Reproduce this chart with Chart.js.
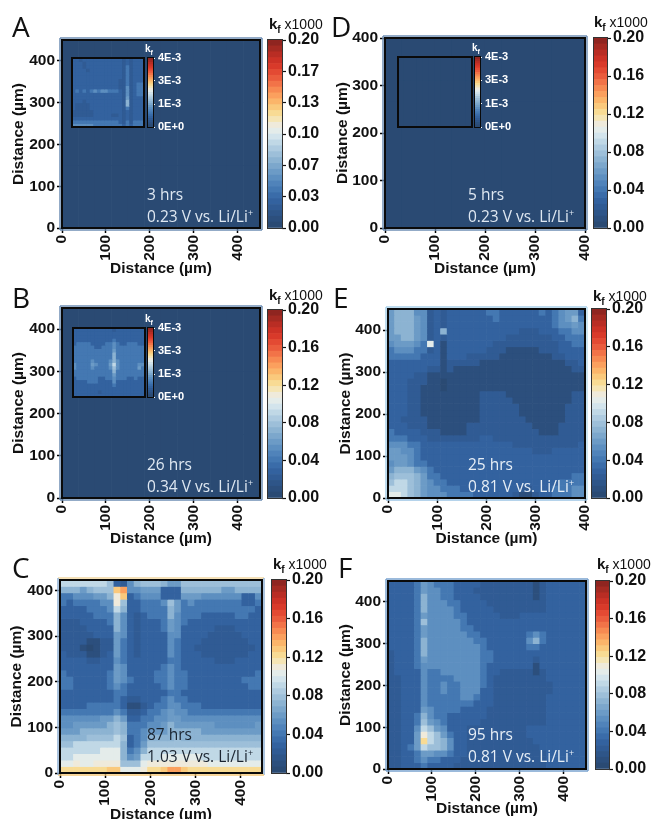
<!DOCTYPE html>
<html>
<head>
<meta charset="utf-8">
<script src="https://cdn.jsdelivr.net/npm/chart.js@4"></script>
<style>
  html, body { margin: 0; padding: 0; background: #fff; }
  #page { position: relative; width: 651px; height: 819px; overflow: hidden; }
  #page canvas { position: absolute; }
  .letter { position: absolute; font: 28px "Open Sans"; line-height: 30px; color: #111; }
  .note { position: absolute; font: 15.5px "Open Sans"; line-height: 20px; white-space: nowrap; }
  .note sup { font-size: 9px; line-height: 0; }
  .head { position: absolute; font: 14px "Liberation Sans"; line-height: 18px; color: #111; white-space: nowrap; }
  .head b { font-size: 15px; }
  .head sub { font-size: 10px; line-height: 0; }
  .insethead { position: absolute; font: bold 10px "Liberation Sans"; line-height: 12px; color: #fff; }
  .insethead sub { font-size: 7px; line-height: 0; }
</style>
</head>
<body>
<div id="page"></div>
<script>
// colour bar bands, bottom to top
const bandColors = ['#2a4a73','#2c4f7d','#2e5588','#305b94','#33629f','#3a6ca9','#4478b2','#5083ba',
  '#5d8fc0','#6c9bc6','#7ca7cc','#8cb3d2','#9dbfd9','#aecbe0','#c0d8e6','#d3e4ec',
  '#e4ecea','#efeadb','#f5e5b5','#f8db94','#fac97c','#fbb56a','#fba05e','#f78a52',
  '#f27348','#ea5c3d','#e34a33','#d93a2a','#cc3226','#b92d24','#a42a22','#8f2520']

const distanceTicks = [0,100,200,300,400]
const barTicksThirds = [0,0.0333,0.0667,0.1,0.1333,0.1667,0.2]
const barTicksFifths = [0,0.04,0.08,0.12,0.16,0.2]
const insetTicks = [0,0.00133,0.00267,0.004]

// kf x1000, in steps of 0.01, top row first
const flatMap = [
[0,0,0,0,0,0,0,0,0,0,0,0],
[0,0,0,0,0,0,0,0,0,0,0,0],
[0,0,0,0,0,0,0,0,0,0,0,0]]

const mapC = [
[9,9,9,9,9,9,9,8,3,2,5,7,8,8,8,7,6,6,8,8,8,8,8,8,8,8,8,8,8,8],
[7,7,7,6,7,8,8,8,13,14,5,5,6,6,6,3,3,3,7,7,7,7,7,7,6,6,7,7,7,7],
[4,4,5,5,5,6,6,7,11,13,3,4,5,5,5,3,3,3,6,6,6,5,5,5,5,5,5,3,3,5],
[4,3,4,4,4,4,5,5,11,8,3,3,4,4,4,5,8,6,4,5,4,4,4,4,4,4,4,3,3,4],
[3,3,3,3,4,4,4,5,9,7,3,3,4,4,4,4,7,6,4,4,4,4,4,4,4,4,4,4,4,3],
[3,3,3,3,3,4,4,4,7,5,3,2,3,4,4,4,7,5,4,4,4,3,3,3,3,3,4,4,3,3],
[2,2,2,3,3,3,3,4,7,5,3,2,3,3,3,4,6,5,4,3,3,3,3,3,3,3,3,3,3,3],
[2,2,2,2,3,3,3,3,7,5,3,2,3,3,3,4,6,5,3,3,3,3,3,2,2,2,3,3,3,3],
[2,2,2,2,2,3,3,3,6,5,3,2,3,3,3,3,5,5,3,3,3,3,2,2,2,2,2,3,3,3],
[2,2,2,2,1,1,2,2,6,4,3,2,3,3,3,3,5,4,3,3,3,2,2,2,2,2,2,2,3,3],
[2,2,2,1,0,1,2,2,6,4,3,2,3,3,3,3,5,4,3,3,2,2,2,2,2,2,2,2,2,3],
[3,2,2,2,1,1,2,3,6,4,3,2,3,3,3,3,5,4,3,3,3,2,2,2,2,2,2,2,3,3],
[3,3,3,3,2,2,3,3,5,4,3,3,3,3,3,3,4,4,3,3,3,3,3,2,2,2,3,3,3,3],
[3,3,3,3,3,3,3,3,6,5,3,3,3,3,3,4,5,4,3,3,3,3,3,3,3,3,3,3,3,3],
[4,3,3,3,3,3,3,4,6,5,3,3,3,3,4,4,5,4,4,3,3,3,3,3,3,3,3,3,3,4],
[4,4,3,3,3,3,3,4,6,5,4,3,3,3,4,4,5,4,4,3,3,3,3,3,3,3,3,4,4,4],
[4,4,3,3,3,3,3,4,5,4,3,3,3,3,3,4,5,4,4,3,3,3,3,3,3,3,3,3,4,4],
[3,3,3,3,3,3,3,3,4,4,3,3,3,3,3,3,4,4,3,3,3,3,3,3,3,3,3,3,3,3],
[3,3,3,3,3,3,3,3,4,3,2,2,3,3,3,4,5,4,4,3,3,3,3,3,3,3,3,3,3,3],
[3,3,3,3,4,4,4,4,4,3,1,1,2,3,4,4,5,5,4,4,4,3,3,3,3,3,3,3,3,3],
[4,4,4,4,4,4,4,4,5,4,2,2,3,4,4,5,6,5,5,4,4,4,4,4,4,4,4,4,4,4],
[5,5,5,5,5,5,6,6,7,6,3,3,4,4,5,5,6,6,5,5,5,5,5,5,5,5,5,5,5,5],
[5,5,6,6,6,6,6,7,8,7,4,4,4,5,5,6,7,6,6,6,6,6,6,5,5,5,5,5,5,6],
[6,6,6,7,7,7,7,7,8,7,4,4,5,6,6,6,7,7,7,7,7,6,6,6,6,6,6,6,6,6],
[7,7,7,7,8,8,8,8,9,8,3,4,5,7,7,7,7,8,7,7,7,7,7,7,7,7,7,7,7,7],
[8,8,9,9,9,9,9,9,9,7,3,4,6,8,8,8,8,8,8,8,8,8,8,8,8,8,8,8,8,8],
[9,9,9,9,9,9,10,10,10,7,4,5,7,9,9,9,9,9,9,9,9,9,9,9,9,9,9,9,9,9],
[9,9,10,10,10,10,10,10,10,7,5,6,9,9,9,10,10,10,10,10,10,9,9,9,9,9,9,9,9,9],
[10,10,11,10,10,11,11,11,11,8,8,8,10,11,11,11,11,11,11,11,11,11,10,10,10,10,10,10,10,10],
[12,12,12,12,12,12,12,13,13,10,10,10,11,12,12,13,14,14,13,12,12,12,12,12,12,12,12,12,12,12]]

const mapE = [
[6,7,7,7,5,5,2,3,2,3,3,3,3,3,3,4,4,3,3,3,3,3,3,4,3,4,5,6,6,3],
[6,7,7,7,6,5,2,3,2,3,3,3,3,3,3,3,4,3,3,3,3,3,3,3,3,4,5,6,7,4],
[6,7,7,7,6,5,2,3,2,3,3,3,3,3,3,3,3,3,3,3,3,3,3,3,3,4,5,5,6,5],
[6,7,7,7,6,5,2,3,7,3,3,3,3,3,3,3,3,3,3,3,2,2,2,3,3,3,4,4,5,5],
[6,6,7,7,6,5,2,3,2,3,3,3,3,3,3,3,3,3,2,2,2,2,2,2,2,3,3,4,4,4],
[5,6,6,6,5,4,10,3,1,3,3,3,3,3,3,3,2,2,2,2,2,2,2,2,2,2,3,3,4,4],
[4,5,5,5,4,4,2,3,1,3,3,3,3,3,3,2,2,2,1,1,1,1,1,2,2,2,3,3,3,3],
[4,4,4,4,4,3,3,3,1,3,3,3,2,2,2,2,2,1,1,1,1,1,1,1,1,2,2,3,3,3],
[3,3,3,3,3,3,3,3,1,2,2,2,2,2,1,1,1,1,1,1,1,1,1,1,1,1,1,2,2,3],
[3,3,3,3,3,3,2,2,1,2,1,1,1,1,1,1,1,1,1,1,1,1,1,1,1,1,1,1,2,2],
[3,3,3,3,2,2,1,1,1,1,1,1,1,1,1,1,1,1,1,1,1,1,1,1,1,1,1,1,1,1],
[3,3,3,2,2,2,1,1,0,1,1,1,1,1,1,1,1,1,1,1,1,1,1,1,1,1,1,1,1,1],
[3,3,3,2,2,1,1,1,0,1,1,1,1,1,1,1,1,1,1,1,1,1,1,1,1,1,1,1,1,1],
[3,3,3,2,2,1,1,1,1,1,1,1,1,1,2,2,2,2,1,1,1,1,1,1,1,1,1,1,2,2],
[3,3,3,2,2,1,1,1,1,1,1,1,1,1,2,2,2,2,2,1,1,1,1,1,1,1,1,1,2,2],
[3,3,3,2,2,1,1,1,1,1,1,1,1,1,2,2,2,2,2,2,1,1,1,1,1,1,1,2,2,2],
[3,3,3,2,2,1,1,1,1,1,1,1,1,1,2,2,2,2,2,2,1,1,1,1,1,1,1,2,2,2],
[3,3,2,2,2,2,1,1,1,1,1,1,1,1,2,2,2,2,2,2,2,1,1,1,1,1,1,2,2,2],
[3,3,3,2,2,2,1,1,1,1,1,1,2,2,2,2,2,2,2,2,2,2,1,1,1,1,2,2,2,2],
[4,3,3,3,3,2,2,2,1,1,1,1,2,2,2,2,2,2,2,2,2,2,2,1,1,1,2,2,2,2],
[4,4,4,3,3,3,2,2,2,2,2,2,2,2,3,3,2,2,2,2,2,2,2,2,2,2,2,2,2,2],
[5,5,5,4,4,3,3,3,3,3,3,3,3,3,3,3,3,3,3,2,2,2,2,2,2,2,2,2,2,3],
[6,6,5,5,4,3,3,3,3,3,3,3,3,3,3,3,3,3,3,3,3,3,2,2,2,3,3,3,3,3],
[6,6,6,5,4,3,3,3,3,3,3,3,3,3,3,3,3,3,3,3,3,3,3,3,3,3,3,3,3,3],
[5,6,6,5,4,4,3,3,3,3,3,3,3,3,3,3,3,3,3,3,3,3,3,3,3,3,3,3,3,3],
[6,7,7,7,6,5,4,3,3,3,3,3,3,3,3,3,3,3,3,3,3,3,3,3,3,3,3,3,3,3],
[7,8,8,8,7,6,4,4,3,3,3,3,3,3,3,3,3,3,3,3,3,3,3,3,3,3,3,3,4,4],
[8,9,9,8,7,6,5,4,4,3,3,3,3,3,3,3,3,3,3,3,3,3,3,3,3,3,4,4,4,4],
[9,9,9,8,7,6,5,5,4,4,4,3,3,3,3,3,3,3,3,3,2,2,3,3,3,4,4,4,5,5],
[10,10,9,8,7,6,5,5,5,4,4,4,4,3,3,3,3,3,3,2,1,1,2,3,3,4,4,4,5,5]]

const mapF = [
[3,3,3,3,4,6,5,4,4,4,3,3,3,3,2,2,2,2,2,2,2,2,1,2,3,3,3,3,3,3],
[3,3,3,3,4,6,5,5,4,4,3,3,3,2,2,2,2,2,2,2,2,2,1,2,3,3,3,3,3,3],
[3,3,3,3,4,7,5,5,4,4,3,3,3,3,2,2,2,2,2,2,2,2,1,2,3,3,3,3,3,3],
[3,3,3,3,4,7,5,5,5,4,4,3,3,3,3,2,2,2,2,2,2,2,2,2,3,3,3,3,3,3],
[3,3,3,3,4,7,5,5,5,5,4,3,3,3,3,3,2,2,2,2,2,2,2,2,3,3,3,3,3,3],
[3,3,3,3,4,6,5,5,5,5,4,4,3,3,3,3,3,2,2,2,3,3,3,3,3,3,3,3,3,3],
[3,3,3,3,4,8,5,5,5,5,5,4,3,3,3,3,3,3,3,3,3,3,3,3,3,3,3,3,3,3],
[3,3,3,3,4,6,5,5,5,5,5,4,4,3,3,3,3,3,3,3,3,3,3,3,3,3,3,3,3,3],
[3,3,3,3,4,6,5,5,5,5,5,5,4,4,3,3,3,3,3,3,3,4,5,4,3,3,3,3,3,3],
[3,3,3,3,4,7,5,5,5,5,5,5,5,4,4,3,3,3,3,3,3,5,7,4,3,3,3,3,3,3],
[3,3,3,3,4,7,5,5,5,5,5,5,5,5,4,3,3,3,3,3,3,4,4,3,3,3,3,3,3,3],
[2,3,3,3,4,7,5,5,5,5,5,5,5,5,4,4,3,3,3,3,3,3,3,3,3,3,3,3,3,3],
[2,3,3,3,4,6,5,5,5,5,5,5,5,5,4,4,3,3,3,3,3,3,2,3,3,3,3,3,3,3],
[2,3,3,3,4,5,5,5,5,5,5,5,5,5,4,3,3,3,3,3,3,3,1,3,3,3,3,3,3,3],
[2,3,3,3,3,5,4,4,5,5,5,5,5,5,4,3,3,2,2,2,2,2,1,2,3,3,3,3,3,3],
[2,2,3,3,3,5,4,4,4,4,5,5,5,5,4,3,2,2,2,2,2,2,2,2,3,3,3,3,3,3],
[2,2,3,3,3,5,4,4,5,4,4,5,5,5,4,3,2,2,2,2,2,2,2,2,2,3,3,3,3,3],
[2,2,3,3,3,5,4,4,5,4,4,5,5,5,3,3,2,2,2,2,2,2,2,2,2,3,3,3,3,3],
[2,2,3,3,3,5,4,4,4,4,4,5,5,4,3,3,2,2,2,2,2,2,2,2,3,3,3,3,3,3],
[2,2,3,3,3,5,4,4,4,4,4,4,4,3,3,3,2,2,2,2,2,2,2,2,3,3,3,3,3,3],
[2,2,3,3,3,6,5,4,4,4,4,3,3,3,3,2,2,2,2,2,2,2,2,2,3,3,3,3,3,3],
[2,2,3,3,4,7,5,4,4,3,3,3,3,3,3,2,2,2,2,2,2,2,2,2,3,3,3,3,3,3],
[2,2,3,3,4,8,6,5,4,3,3,3,3,3,2,2,2,2,2,2,2,2,2,2,3,3,3,3,3,3],
[2,2,3,3,5,9,8,6,5,3,3,3,2,2,2,2,2,2,2,2,2,3,3,3,3,3,3,3,3,3],
[2,2,3,3,6,11,9,8,6,4,3,3,2,2,2,2,2,2,2,2,2,3,3,3,3,3,3,3,3,3],
[2,2,3,3,6,12,9,8,7,5,3,3,2,2,2,2,2,2,2,2,2,2,3,3,3,3,3,3,3,3],
[2,2,3,4,6,9,8,8,7,5,3,3,2,2,2,2,2,2,2,2,2,2,2,3,3,3,3,3,3,3],
[2,2,3,3,4,6,6,5,5,4,3,3,2,2,2,2,2,2,2,2,2,2,2,2,3,3,3,3,3,3],
[2,2,3,3,4,5,4,4,3,3,3,2,2,2,2,2,2,2,2,2,2,2,2,2,3,3,3,3,3,3],
[2,2,3,3,3,4,3,3,3,3,2,2,2,2,2,2,2,2,2,2,2,2,2,2,3,3,3,3,3,3]]

// insets, in steps of 2E-4
const insetA = [
[3,3,2,3,3,3,3,3,3,3,3,3,3,3,2,3,2,3,3,3],
[3,3,3,2,3,3,3,3,3,3,3,3,3,3,2,3,2,3,3,3],
[3,3,3,2,3,3,3,3,3,3,3,3,3,3,2,4,2,3,3,3],
[3,3,3,3,2,3,3,3,3,3,3,3,3,3,2,4,2,3,3,3],
[3,3,3,3,3,3,3,3,3,3,3,3,3,3,2,4,2,3,3,3],
[3,3,3,3,3,3,3,3,3,3,3,3,3,3,2,4,2,3,3,3],
[3,3,3,3,3,3,3,3,3,3,3,3,3,2,2,4,2,3,3,3],
[3,3,3,3,3,3,3,3,3,3,3,3,3,2,2,4,2,3,4,4],
[3,3,3,3,3,3,3,3,3,3,3,3,3,2,2,5,2,3,4,4],
[3,4,3,4,3,4,5,4,5,5,4,4,4,3,2,5,2,3,4,4],
[3,3,3,3,3,3,3,3,3,3,3,3,3,3,2,5,2,3,4,4],
[3,3,3,3,3,3,3,3,3,3,3,3,3,3,2,6,2,3,3,3],
[3,3,3,2,3,3,3,3,3,3,3,3,3,3,2,7,2,3,3,3],
[3,2,2,2,2,3,3,3,3,3,3,3,3,3,2,7,2,3,3,3],
[3,2,2,2,2,3,3,3,3,3,3,3,3,3,2,4,2,3,3,3],
[2,2,2,2,2,2,3,3,3,3,3,3,3,3,2,3,2,3,3,3],
[2,2,2,2,2,2,3,3,3,3,3,2,2,3,2,3,2,3,3,3],
[3,3,3,3,3,3,3,3,3,3,3,3,3,3,2,3,2,3,3,3],
[4,4,4,4,4,4,4,4,4,4,4,4,4,3,2,4,2,4,4,4],
[5,5,5,5,5,5,4,4,4,4,4,4,4,4,3,4,3,4,4,4]]

const insetB = [
[3,3,3,3,3,3,3,3,3,3,3,2,3,3,3,3,3,3,3,3],
[3,3,3,3,3,3,3,3,3,3,3,3,3,3,3,3,3,3,3,3],
[3,3,3,3,3,3,3,3,3,3,3,3,3,3,3,3,3,3,3,3],
[3,3,3,3,3,3,3,3,3,3,3,4,3,3,3,3,3,3,3,3],
[3,4,4,4,4,3,3,3,3,4,4,5,4,3,3,4,4,4,3,3],
[4,4,4,4,4,4,3,3,4,4,4,5,4,4,4,4,4,4,4,4],
[4,4,4,4,4,4,4,4,4,4,4,6,4,4,4,4,4,4,4,4],
[4,4,4,4,4,4,4,4,4,4,4,7,4,4,4,4,4,4,4,4],
[4,4,4,4,4,4,4,4,4,4,4,7,4,4,4,4,4,4,4,4],
[4,4,4,4,4,5,4,4,4,4,5,7,5,4,4,4,4,4,4,4],
[5,4,4,4,4,6,5,4,4,4,6,9,5,4,4,4,4,4,5,5],
[5,4,4,4,4,5,4,4,4,4,5,8,5,4,4,4,4,4,6,4],
[4,4,4,4,4,4,4,4,4,4,4,7,4,4,4,4,4,4,4,4],
[4,4,4,4,4,4,4,4,4,4,4,6,4,4,4,4,4,4,4,4],
[3,4,4,4,4,4,4,3,3,4,4,5,4,4,4,3,3,4,3,3],
[3,3,3,3,4,4,4,3,3,3,3,5,3,3,3,3,3,3,3,3],
[3,3,3,3,3,3,3,3,3,3,3,4,3,3,3,3,3,3,3,3],
[3,3,3,3,3,3,3,3,3,3,3,3,3,3,3,3,3,3,3,3],
[3,3,3,3,3,3,3,2,3,3,3,3,3,3,3,3,3,3,3,3],
[3,3,3,3,3,3,3,3,3,3,3,3,3,3,3,3,3,3,3,3]]

const page = document.getElementById('page')
const frameGrey = '#6f8fb5'

function addCanvas(x, y, w, h){
  const c = document.createElement('canvas')
  c.width = w; c.height = h
  c.style.left = x + 'px'; c.style.top = y + 'px'
  c.style.width = w + 'px'; c.style.height = h + 'px'
  page.appendChild(c)
  return c
}

function addHtml(cls, x, y, html, color){
  const d = document.createElement('div')
  d.className = cls
  d.style.left = x + 'px'; d.style.top = y + 'px'
  if(color) d.style.color = color
  d.innerHTML = html
  page.appendChild(d)
}

function colorOf(level){
  const i = Math.min(bandColors.length - 1, Math.floor(level / 20 * bandColors.length))
  return bandColors[i]
}

// one floating bar per cell, one dataset per row
function cellSets(rows, xMax, yMax){
  const nRows = rows.length, nCols = rows[0].length
  return rows.map((row, r) => ({
    data: row.map((v, c) => ({
      x: (c + 0.5) * xMax / nCols,
      y: [yMax * (nRows - r - 1) / nRows, yMax * (nRows - r) / nRows]
    })),
    backgroundColor: row.map(colorOf),
    grouped: false,
    barPercentage: 1,
    categoryPercentage: 1
  }))
}

function framePlugin(fringe, frameWidth){
  return {
    id: 'frame',
    beforeDatasetsDraw(chart){
      if(!fringe) return
      const a = chart.chartArea, ctx = chart.ctx
      ctx.save()
      ctx.lineWidth = 1.5
      const sides = [[a.left-2,a.top-2,a.right+2,a.top-2,fringe[0]],[a.right+2,a.top-2,a.right+2,a.bottom+2,fringe[1]],
        [a.right+2,a.bottom+2,a.left-2,a.bottom+2,fringe[2]],[a.left-2,a.bottom+2,a.left-2,a.top-2,fringe[3]]]
      sides.forEach(s => {
        ctx.strokeStyle = s[4]
        ctx.beginPath(); ctx.moveTo(s[0],s[1]); ctx.lineTo(s[2],s[3]); ctx.stroke()
      })
      ctx.restore()
    },
    afterDatasetsDraw(chart){
      const a = chart.chartArea, ctx = chart.ctx
      ctx.save()
      ctx.strokeStyle = '#0a0a0a'
      ctx.lineWidth = frameWidth
      ctx.strokeRect(a.left, a.top, a.right - a.left, a.bottom - a.top)
      ctx.restore()
    }
  }
}

function fixedTicks(list){
  return scale => { scale.ticks = list.map(v => ({value: v})) }
}

function drawMap(p){
  const left = p.titleX - 9, top = p.y - 14, right = p.x + p.w + 10, bottom = p.titleY + 10
  new Chart(addCanvas(left, top, right - left, bottom - top), {
    type: 'bar',
    data: {datasets: cellSets(p.rows, p.xMax, p.yMax).map(d => ({...d, clip: 0}))},
    plugins: [framePlugin(p.fringe, 2)],
    options: {
      responsive: false, animation: false, events: [], devicePixelRatio: 1,
      layout: {padding: {left: 0, top: 14, right: 10, bottom: 0}},
      plugins: {legend: {display: false}, tooltip: {enabled: false}},
      scales: {
        x: {
          type: 'linear', min: 0, max: p.xMax, offset: false,
          grid: {drawOnChartArea: false, offset: false, tickLength: 5, tickColor: '#000', tickWidth: 1.5},
          border: {display: false},
          afterBuildTicks: fixedTicks(distanceTicks),
          afterFit(s){ s.height = bottom - (p.y + p.h); s.paddingLeft = s.paddingRight = 0 },
          ticks: {minRotation: 90, maxRotation: 90, autoSkip: false, padding: 2, color: '#111',
            font: {family: 'Liberation Sans', size: 15.5, weight: 'bold'}},
          title: {display: true, text: 'Distance (µm)', color: '#111', padding: 0,
            font: {family: 'Liberation Sans', size: 15.5, weight: 'bold'}}
        },
        y: {
          type: 'linear', min: 0, max: p.yMax,
          grid: {drawOnChartArea: false, tickLength: 5, tickColor: '#000', tickWidth: 1.5},
          border: {display: false},
          afterBuildTicks: fixedTicks(distanceTicks),
          afterFit(s){ s.width = p.x - left; s.paddingTop = s.paddingBottom = 0 },
          ticks: {padding: 2, color: '#111', autoSkip: false,
            font: {family: 'Liberation Sans', size: 15.5, weight: 'bold'}},
          title: {display: true, text: 'Distance (µm)', color: '#111', padding: 0,
            font: {family: 'Liberation Sans', size: 15.5, weight: 'bold'}}
        }
      }
    }
  })
}

// colour bar: the bands are bars on the same 0..top value scale as the ticks
function drawBar(x, y, w, h, top, ticks, labelOf, font, tickColor, labelColor, tickLen, pad, lineColor){
  const bands = bandColors.map((col, i) => ({
    data: [{x: 0.5, y: [top * i / bandColors.length, top * (i + 1) / bandColors.length]}],
    backgroundColor: col, grouped: false, barPercentage: 1, categoryPercentage: 1
  }))
  new Chart(addCanvas(x - 2, y - 12, w + 62, h + 24), {
    type: 'bar',
    data: {datasets: bands},
    plugins: [{
      id: 'outline',
      afterDatasetsDraw(chart){
        const a = chart.chartArea, ctx = chart.ctx
        ctx.save(); ctx.strokeStyle = lineColor; ctx.lineWidth = 1
        ctx.strokeRect(a.left - 0.5, a.top - 0.5, a.right - a.left + 1, a.bottom - a.top + 1)
        ctx.restore()
      }
    }],
    options: {
      responsive: false, animation: false, events: [], devicePixelRatio: 1,
      layout: {padding: {left: 2, top: 12, right: 0, bottom: 12}},
      plugins: {legend: {display: false}, tooltip: {enabled: false}},
      scales: {
        x: {type: 'linear', display: false, min: 0, max: 1, offset: false},
        y: {
          type: 'linear', position: 'right', min: 0, max: top,
          grid: {drawOnChartArea: false, tickLength: tickLen, tickColor: tickColor, tickWidth: 1.2},
          border: {display: false},
          afterBuildTicks: fixedTicks(ticks),
          afterFit(s){ s.width = 60; s.paddingTop = s.paddingBottom = 0 },
          ticks: {padding: pad, color: labelColor, autoSkip: false, callback: labelOf,
            font: {family: 'Liberation Sans', size: font, weight: 'bold'}}
        }
      }
    }
  })
}

function drawInset(n){
  new Chart(addCanvas(n.x - 2, n.y - 2, n.w + 4, n.h + 4), {
    type: 'bar',
    data: {datasets: cellSets(n.rows, 100, 100)},
    plugins: [framePlugin(null, 2)],
    options: {
      responsive: false, animation: false, events: [], devicePixelRatio: 1,
      layout: {padding: 2},
      plugins: {legend: {display: false}, tooltip: {enabled: false}},
      scales: {
        x: {type: 'linear', display: false, min: 0, max: 100, offset: false},
        y: {type: 'linear', display: false, min: 0, max: 100}
      }
    }
  })
  drawBar(n.barX, n.y, 5, n.h, 0.004, insetTicks,
    v => v.toExponential(0).toUpperCase(), 11, '#fff', '#fff', 2, 3, '#0a0a0a')
  addHtml('insethead', n.barX - 3, n.y - 15, 'k<sub>f</sub>')
}

const panels = [
  {letter:'A', lx:12, ly:11, x:62, y:40, w:198, h:188, xMax:452, yMax:450, rows:flatMap, titleX:18, titleY:268,
    fringe:[frameGrey,frameGrey,frameGrey,frameGrey], barX:268, barY:40, barW:14, barH:188, barTicks:barTicksThirds,
    hx:269, hy:15, nx:147, ny:184, note:['3 hrs','0.23 V vs. Li/Li'], noteColor:'#dfe8f2',
    inset:{x:72, y:58, w:72, h:69, barX:148, rows:insetA}},
  {letter:'D', lx:331, ly:11, x:385, y:38, w:200, h:190, xMax:400, yMax:400, rows:flatMap, titleX:342, titleY:268,
    fringe:[frameGrey,frameGrey,frameGrey,frameGrey], barX:594, barY:38, barW:13, barH:190, barTicks:barTicksFifths,
    hx:594, hy:13, nx:468, ny:184, note:['5 hrs','0.23 V vs. Li/Li'], noteColor:'#dfe8f2',
    inset:{x:398, y:57, w:74, h:70, barX:475, rows:flatMap}},
  {letter:'B', lx:12, ly:282, x:62, y:308, w:198, h:190, xMax:452, yMax:450, rows:flatMap, titleX:18, titleY:538,
    fringe:[frameGrey,frameGrey,frameGrey,frameGrey], barX:268, barY:310, barW:14, barH:188, barTicks:barTicksFifths,
    hx:269, hy:286, nx:147, ny:454, note:['26 hrs','0.34 V vs. Li/Li'], noteColor:'#dfe8f2',
    inset:{x:73, y:328, w:72, h:69, barX:148, rows:insetB}},
  {letter:'E', lx:333, ly:282, x:388, y:309, w:197, h:189, xMax:400, yMax:450, rows:mapE, titleX:345, titleY:538,
    fringe:['#a9d0ea','#bfe0f0','#9cc4e4','#a9d0ea'], barX:592, barY:309, barW:14, barH:189, barTicks:barTicksFifths,
    hx:593, hy:287, nx:468, ny:454, note:['25 hrs','0.81 V vs. Li/Li'], noteColor:'#e6eef6'},
  {letter:'C', lx:12, ly:552, x:60, y:580, w:202, h:193, xMax:447, yMax:423, rows:mapC, titleX:16, titleY:814,
    fringe:['#f2d7a0','#8fb0d4','#f6c878','#8fb0d4'], barX:272, barY:580, barW:14, barH:193, barTicks:barTicksFifths,
    hx:273, hy:555, nx:147, ny:724, note:['87 hrs','1.03 V vs. Li/Li'], noteColor:'#1a2430'},
  {letter:'F', lx:338, ly:552, x:388, y:581, w:198, h:188, xMax:452, yMax:450, rows:mapF, titleX:345, titleY:808,
    fringe:['#7aa3cf','#7aa3cf','#7aa3cf','#7aa3cf'], barX:596, barY:581, barW:13, barH:188, barTicks:barTicksFifths,
    hx:597, hy:555, nx:468, ny:724, note:['95 hrs','0.81 V vs. Li/Li'], noteColor:'#e6eef6'}
]

panels.forEach(p => {
  drawMap(p)
  drawBar(p.barX, p.barY, p.barW, p.barH, 0.2, p.barTicks, v => v.toFixed(2), 16, '#111', '#111', 4, 2, '#333')
  if(p.inset) drawInset(p.inset)
  addHtml('letter', p.lx, p.ly, p.letter)
  addHtml('head', p.hx, p.hy, '<b>k<sub>f</sub></b> x1000')
  addHtml('note', p.nx, p.ny, p.note[0], p.noteColor)
  addHtml('note', p.nx, p.ny + 22, p.note[1] + '<sup>+</sup>', p.noteColor)
})
</script>
</body>
</html>
